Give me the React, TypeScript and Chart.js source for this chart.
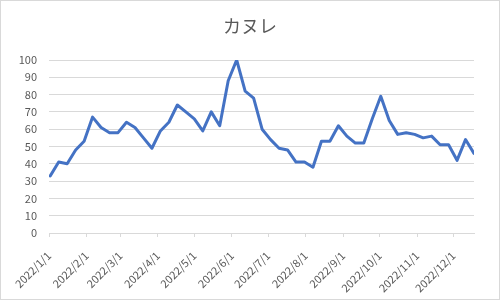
import React, { useEffect, useRef } from "react";
import { Chart, registerables } from "chart.js";

Chart.register(...registerables);

const title = "カヌレ";

const weekDates = [
  "2022/1/2", "2022/1/9", "2022/1/16", "2022/1/23", "2022/1/30",
  "2022/2/6", "2022/2/13", "2022/2/20", "2022/2/27",
  "2022/3/6", "2022/3/13", "2022/3/20", "2022/3/27",
  "2022/4/3", "2022/4/10", "2022/4/17", "2022/4/24",
  "2022/5/1", "2022/5/8", "2022/5/15", "2022/5/22", "2022/5/29",
  "2022/6/5", "2022/6/12", "2022/6/19", "2022/6/26",
  "2022/7/3", "2022/7/10", "2022/7/17", "2022/7/24", "2022/7/31",
  "2022/8/7", "2022/8/14", "2022/8/21", "2022/8/28",
  "2022/9/4", "2022/9/11", "2022/9/18", "2022/9/25",
  "2022/10/2", "2022/10/9", "2022/10/16", "2022/10/23", "2022/10/30",
  "2022/11/6", "2022/11/13", "2022/11/20", "2022/11/27",
  "2022/12/4", "2022/12/11", "2022/12/18",
];

const values = [
  33, 41, 40, 48, 53,
  67, 61, 58, 58,
  64, 61, 55, 49,
  59, 64, 74, 70,
  66, 59, 70, 62, 88,
  100, 82, 78, 60,
  54, 49, 48, 41, 41,
  38, 53, 53, 62,
  56, 52, 52, 66,
  79, 65, 57, 58, 57,
  55, 56, 51, 51,
  42, 54, 46,
];

const monthLabels = [
  "2022/1/1", "2022/2/1", "2022/3/1", "2022/4/1", "2022/5/1", "2022/6/1",
  "2022/7/1", "2022/8/1", "2022/9/1", "2022/10/1", "2022/11/1", "2022/12/1",
];

const axisStart = "2022/1/1";

function dayIndex(s: string): number {
  const [y, m, d] = s.split("/").map(Number);
  const [y0, m0, d0] = axisStart.split("/").map(Number);
  const t = new Date(y, m - 1, d).getTime() - new Date(y0, m0 - 1, d0).getTime();
  return Math.round(t / 86400000);
}

const FONT = "'Noto Sans CJK JP', 'Noto Sans', sans-serif";
const TEXT = "#595959";
const GRID = "#d9d9d9";

const framePlugin = {
  id: "frame",
  beforeDraw(chart: any) {
    const ctx = chart.ctx;
    ctx.save();
    ctx.fillStyle = "#ffffff";
    ctx.fillRect(0, 0, chart.width, chart.height);
    ctx.restore();
  },
  afterDraw(chart: any) {
    const ctx = chart.ctx;
    ctx.save();
    ctx.strokeStyle = GRID;
    ctx.lineWidth = 1;
    ctx.strokeRect(0.5, 0.5, chart.width - 1, chart.height - 1);
    ctx.fillStyle = TEXT;
    ctx.font = `18px ${FONT}`;
    ctx.textAlign = "center";
    ctx.textBaseline = "middle";
    ctx.fillText(title, chart.width / 2, 26);
    ctx.restore();
  },
};

export default function App() {
  const ref = useRef<HTMLCanvasElement | null>(null);

  useEffect(() => {
    if (!ref.current) return;
    const points = weekDates.map((d, i) => ({ x: dayIndex(d), y: values[i] }));
    const monthTicks = monthLabels.map((m) => dayIndex(m));
    const chart = new Chart(ref.current, {
      type: "line",
      data: {
        datasets: [
          {
            label: title,
            data: points,
            borderColor: "#4472C4",
            borderWidth: 3,
            pointRadius: 0,
            tension: 0,
            fill: false,
            borderJoinStyle: "round",
            borderCapStyle: "round",
          },
        ],
      },
      options: {
        animation: false,
        responsive: false,
        maintainAspectRatio: false,
        layout: { padding: { left: 0, right: 26, top: 60, bottom: 0 } },
        plugins: {
          legend: { display: false },
          tooltip: { enabled: false },
          title: { display: false },
        },
        scales: {
          x: {
            type: "linear",
            min: dayIndex(axisStart),
            max: dayIndex(weekDates[weekDates.length - 1]),
            afterBuildTicks: (scale: any) => {
              scale.ticks = monthTicks.map((v) => ({ value: v }));
            },
            afterFit: (scale: any) => {
              scale.height = 67;
            },
            grid: {
              drawOnChartArea: false,
              drawTicks: true,
              tickLength: 4,
              color: GRID,
            },
            border: { display: true, color: GRID, width: 1 },
            ticks: {
              autoSkip: false,
              maxRotation: 45,
              minRotation: 45,
              color: TEXT,
              padding: 12,
              font: { family: FONT, size: 11 },
              callback: (_v: any, i: number) => monthLabels[i],
            },
          },
          y: {
            min: 0,
            max: 100,
            afterFit: (scale: any) => {
              scale.width = 49;
            },
            ticks: {
              stepSize: 10,
              color: TEXT,
              padding: 12,
              font: { family: FONT, size: 11 },
            },
            grid: { color: GRID, drawTicks: false, lineWidth: 1 },
            border: { display: false },
          },
        },
      },
      plugins: [framePlugin],
    });
    return () => chart.destroy();
  }, []);

  return (
    <div style={{ position: "fixed", left: 0, top: 0, width: 500, height: 300, background: "#fff" }}>
      <canvas ref={ref} width={500} height={300} style={{ width: 500, height: 300, display: "block" }} />
    </div>
  );
}
